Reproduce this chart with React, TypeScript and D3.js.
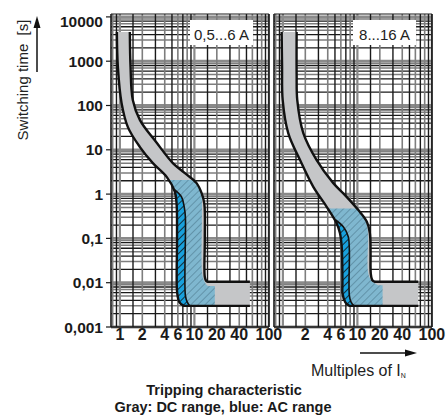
import React from "react";
import * as d3 from "d3";

type P = [number, number];

// ---------- data ----------
const yTickValues = [10000, 1000, 100, 10, 1, 0.1, 0.01, 0.001];
const yTickLabels = ["10000", "1000", "100", "10", "1", "0,1", "0,01", "0,001"];
const xTicksLeft = [1, 2, 4, 6, 10, 20, 40, 100];
const xTicksRight = [2, 4, 6, 10, 20, 40, 100];

const panelLabels = ["0,5...6 A", "8...16 A"];

// Left panel (0,5...6 A): DC band lower/left and upper/right boundaries
const dcLowerA: P[] = [[0.911, 4540], [0.94, 736], [1.054, 113], [1.28, 32.5], [1.86, 11.5], [2.77, 5.0], [4.27, 2.42], [5.47, 1.13], [5.77, 0.6], [5.85, 0.1], [5.88, 0.0058], [6.3, 0.0036], [7.2, 0.003]];
const dcUpperA: P[] = [[1.36, 4540], [1.39, 736], [1.49, 133], [1.86, 46.8], [3.14, 14.2], [5.14, 5.0], [7.45, 2.98], [10.7, 1.77], [12.5, 1.05], [13.6, 0.6], [13.8, 0.1], [13.8, 0.0135], [14.4, 0.011], [15.2, 0.0105]];
const dcEndA = 55.6;
const acUpperA: P[] = [[9.8, 2.07], [11.8, 1.23], [12.5, 0.87], [12.6, 0.3], [12.6, 0.0193], [13.1, 0.0127], [14.7, 0.0088], [16, 0.0084]];
const acEndA = 18.8;
const acInnerA: P[] = [[5.3, 1.3], [6.72, 0.869], [7.3, 0.517], [7.57, 0.307], [7.57, 0.0052], [8.0, 0.0037], [8.7, 0.003], [9.5, 0.0028]];

// Right panel (8...16 A)
const dcLowerB: P[] = [[0.963, 4540], [0.975, 800], [0.994, 132], [1.18, 23.8], [1.7, 5.85], [2.56, 1.46], [3.87, 0.517], [5.28, 0.218], [5.83, 0.132], [6.16, 0.0646], [6.3, 0.01], [6.31, 0.0057], [6.9, 0.0036], [7.8, 0.003]];
const dcUpperB: P[] = [[1.53, 4540], [1.53, 500], [1.56, 132], [1.88, 23.8], [2.84, 5.85], [4.75, 1.77], [6.82, 0.95], [10.3, 0.435], [13.4, 0.237], [14.7, 0.132], [15.0, 0.05], [15.1, 0.0165], [15.8, 0.0115], [17.2, 0.0105]];
const dcEndB = 65.7;
const acUpperB: P[] = [[10.5, 0.476], [12.3, 0.3], [13.4, 0.2], [13.9, 0.119], [13.9, 0.0174], [15.2, 0.0115], [18.8, 0.0088]];
const acEndB = 21.8;
const acInnerB: P[] = [[5.1, 0.26], [6.47, 0.183], [7.55, 0.109], [7.8, 0.0545], [7.8, 0.0052], [8.2, 0.0037], [9.0, 0.003], [9.6, 0.0028]];

const T_BOTTOM = 0.003;

const gridMultX = [1, 1.5, 2, 3, 4, 5, 6, 7, 8, 9];
const gridMultY = [1, 2, 3, 4, 5, 6, 7, 8, 9];

// ---------- layout ----------
const W = 446, H = 417;
const Y_TOP = 14, Y_BOT = 327;
const DEC_Y = 44.3;
const yScale = d3.scaleLog().domain([0.001, Math.pow(10, -3 + (Y_BOT - Y_TOP) / DEC_Y)]).range([Y_BOT, Y_TOP]);
const X_DOMAIN: [number, number] = [0.76, 100];
const xLeft = d3.scaleLog().domain(X_DOMAIN).range([111, 268.9]);
const xRight = d3.scaleLog().domain(X_DOMAIN).range([274, 431.9]);

const FONT = '"Liberation Sans", Arial, Helvetica, sans-serif';
const GRAY = "#c5c6c8";
const LIGHTBLUE = "#7fb7cf";
const BRIGHTBLUE = "#18a0dc";
const DARKLINE = "#1a1a1a";
const GRAYLINE = "#7e7e7e";

function Panel({ xs, id, lower, upper, endX, acUpper, acEnd, acInner, label, labelBox }: any) {
  const line = d3.line<P>().x((d) => xs(d[0])).y((d) => yScale(d[1])).curve(d3.curveCatmullRom.alpha(0.5));
  const [x0, x1] = xs.range();
  const vLines: { v: number; k: number }[] = [];
  for (const dec of [0.1, 1, 10]) {
    gridMultX.forEach((m, k) => {
      const v = m * dec;
      if (v >= X_DOMAIN[0] && v <= X_DOMAIN[1] * 1.0001) vLines.push({ v, k });
    });
  }
  vLines.push({ v: 100, k: 0 });
  const hLines: { v: number; k: number }[] = [];
  for (let e = -3; e <= 4; e++) {
    gridMultY.forEach((m, k) => {
      const v = m * Math.pow(10, e);
      if (v <= yScale.domain()[1] && v >= 0.001) hLines.push({ v, k });
    });
  }
  const lowerPath = line(lower) as string;
  const upperRev = (line([...upper].reverse()) as string).replace(/^M/, "L");
  const lastUpper = upper[upper.length - 1];
  const band = `${lowerPath}L${xs(endX)},${yScale(T_BOTTOM)}L${xs(endX)},${yScale(lastUpper[1])}${upperRev}Z`;
  const acPoly = `${line(acUpper)}L${xs(acEnd)},${yScale(acUpper[acUpper.length - 1][1])}L${xs(acEnd)},${yScale(0.001)}L${xs(2)},${yScale(0.001)}L${xs(2)},${yScale(acUpper[0][1])}Z`;
  const innerLast = acInner[acInner.length - 1];
  const innerPoly = `${line(acInner)}L${xs(innerLast[0])},${yScale(0.001)}L${xs(2.5)},${yScale(0.001)}L${xs(2.5)},${yScale(acInner[0][1])}Z`;
  const lowerLine = `${lowerPath}L${xs(endX)},${yScale(T_BOTTOM)}`;
  const upperLine = `${line(upper)}L${xs(endX)},${yScale(lastUpper[1])}`;
  return (
    <g>
      <defs>
        <clipPath id={`clip-${id}`}>
          <path d={band} />
        </clipPath>
      </defs>
      {hLines.map((h, i) => (
        <line key={"h" + i} x1={x0} x2={x1} y1={yScale(h.v)} y2={yScale(h.v)}
          stroke={h.k === 0 ? "#8a8a8a" : h.k % 2 === 1 ? DARKLINE : GRAYLINE}
          strokeWidth={h.k === 0 ? 2.8 : h.k % 2 === 1 ? 1.3 : 1.5} />
      ))}
      {vLines.map((v, i) => (
        <line key={"v" + i} x1={xs(v.v)} x2={xs(v.v)} y1={Y_TOP} y2={Y_BOT}
          stroke={v.k === 0 ? "#8a8a8a" : v.k % 2 === 1 ? DARKLINE : GRAYLINE}
          strokeWidth={v.k === 0 ? 2.2 : v.k % 2 === 1 ? 1.4 : 1.6} />
      ))}
      <line x1={x0} x2={x0} y1={Y_TOP} y2={Y_BOT} stroke={DARKLINE} strokeWidth={1.6} />
      <line x1={x1} x2={x1} y1={Y_TOP} y2={Y_BOT} stroke={DARKLINE} strokeWidth={1.6} />
      <line x1={x0} x2={x1} y1={Y_TOP} y2={Y_TOP} stroke={DARKLINE} strokeWidth={1.2} />
      <line x1={x0} x2={x1} y1={Y_BOT} y2={Y_BOT} stroke={DARKLINE} strokeWidth={1.6} />
      <path d={band} fill={GRAY} />
      <g clipPath={`url(#clip-${id})`}>
        <path d={acPoly} fill="url(#hatchLight)" />
        <path d={innerPoly} fill="url(#hatchDark)" />
        <path d={line(acInner) as string} fill="none" stroke="#111" strokeWidth={1.6} />
      </g>
      <path d={lowerLine} fill="none" stroke="#111" strokeWidth={2.4} />
      <path d={upperLine} fill="none" stroke="#111" strokeWidth={2.4} />
      <rect x={labelBox[0]} y={20} width={labelBox[1] - labelBox[0]} height={25} fill="#fff" />
      <text x={(labelBox[0] + labelBox[1]) / 2} y={40} textAnchor="middle" fontFamily={FONT} fontSize={15} fill="#222">{label}</text>
    </g>
  );
}

export default function App() {
  return (
    <svg width={W} height={H} style={{ position: "absolute", left: 0, top: 0, background: "#fff" }}>
      <defs>
        <pattern id="hatchLight" patternUnits="userSpaceOnUse" width={5} height={5} patternTransform="rotate(45)">
          <rect width={5} height={5} fill={LIGHTBLUE} />
          <line x1={0} y1={0} x2={0} y2={5} stroke="#5a8aa0" strokeWidth={1.6} />
        </pattern>
        <pattern id="hatchDark" patternUnits="userSpaceOnUse" width={5} height={5} patternTransform="rotate(45)">
          <rect width={5} height={5} fill={BRIGHTBLUE} />
          <line x1={0} y1={0} x2={0} y2={5} stroke="#111" strokeWidth={1.6} />
        </pattern>
      </defs>
      <rect width={W} height={H} fill="#fff" />
      <Panel xs={xLeft} id="a" lower={dcLowerA} upper={dcUpperA} endX={dcEndA}
        acUpper={acUpperA} acEnd={acEndA} acInner={acInnerA} label={panelLabels[0]} labelBox={[190, 253]} />
      <Panel xs={xRight} id="b" lower={dcLowerB} upper={dcUpperB} endX={dcEndB}
        acUpper={acUpperB} acEnd={acEndB} acInner={acInnerB} label={panelLabels[1]} labelBox={[353, 416]} />
      {yTickValues.map((v, i) => (
        <g key={"yt" + i}>
          <line x1={106} x2={111} y1={yScale(v)} y2={yScale(v)} stroke={DARKLINE} strokeWidth={1.2} />
          <text x={103} y={Math.max(yScale(v), 21)} dy="0.36em" textAnchor="end" fontFamily={FONT} fontWeight={700} fontSize={15.5} fill="#1a1a1a">{yTickLabels[i]}</text>
        </g>
      ))}
      {xTicksLeft.map((v, i) => (
        <text key={"xl" + i} x={xLeft(v)} y={340} textAnchor="middle" fontFamily={FONT} fontWeight={700} fontSize={16} fill="#1a1a1a">{String(v)}</text>
      ))}
      {xTicksRight.map((v, i) => (
        <text key={"xr" + i} x={xRight(v)} y={340} textAnchor="middle" fontFamily={FONT} fontWeight={700} fontSize={16} fill="#1a1a1a">{String(v)}</text>
      ))}
      <text transform="translate(28,80) rotate(-90)" textAnchor="middle" fontFamily={FONT} fontSize={15} fill="#222" xmlSpace="preserve">Switching time  [s]</text>
      <line x1={37} x2={37} y1={72} y2={26} stroke="#111" strokeWidth={1.5} />
      <path d="M37,16 L33.5,28 L40.5,28 Z" fill="#111" />
      <line x1={360} x2={406} y1={353} y2={353} stroke="#111" strokeWidth={1.5} />
      <path d="M417,353 L405,349.5 L405,356.5 Z" fill="#111" />
      <text x={311} y={376} fontFamily={FONT} fontSize={16} fill="#222">
        Multiples of I<tspan fontSize={7} dy={2}>N</tspan>
      </text>
      <text x={224} y={395} textAnchor="middle" fontFamily={FONT} fontWeight={700} fontSize={14.5} fill="#1a1a1a">Tripping characteristic</text>
      <text x={223} y={412} textAnchor="middle" fontFamily={FONT} fontWeight={700} fontSize={14.5} fill="#1a1a1a">Gray: DC range, blue: AC range</text>
    </svg>
  );
}
